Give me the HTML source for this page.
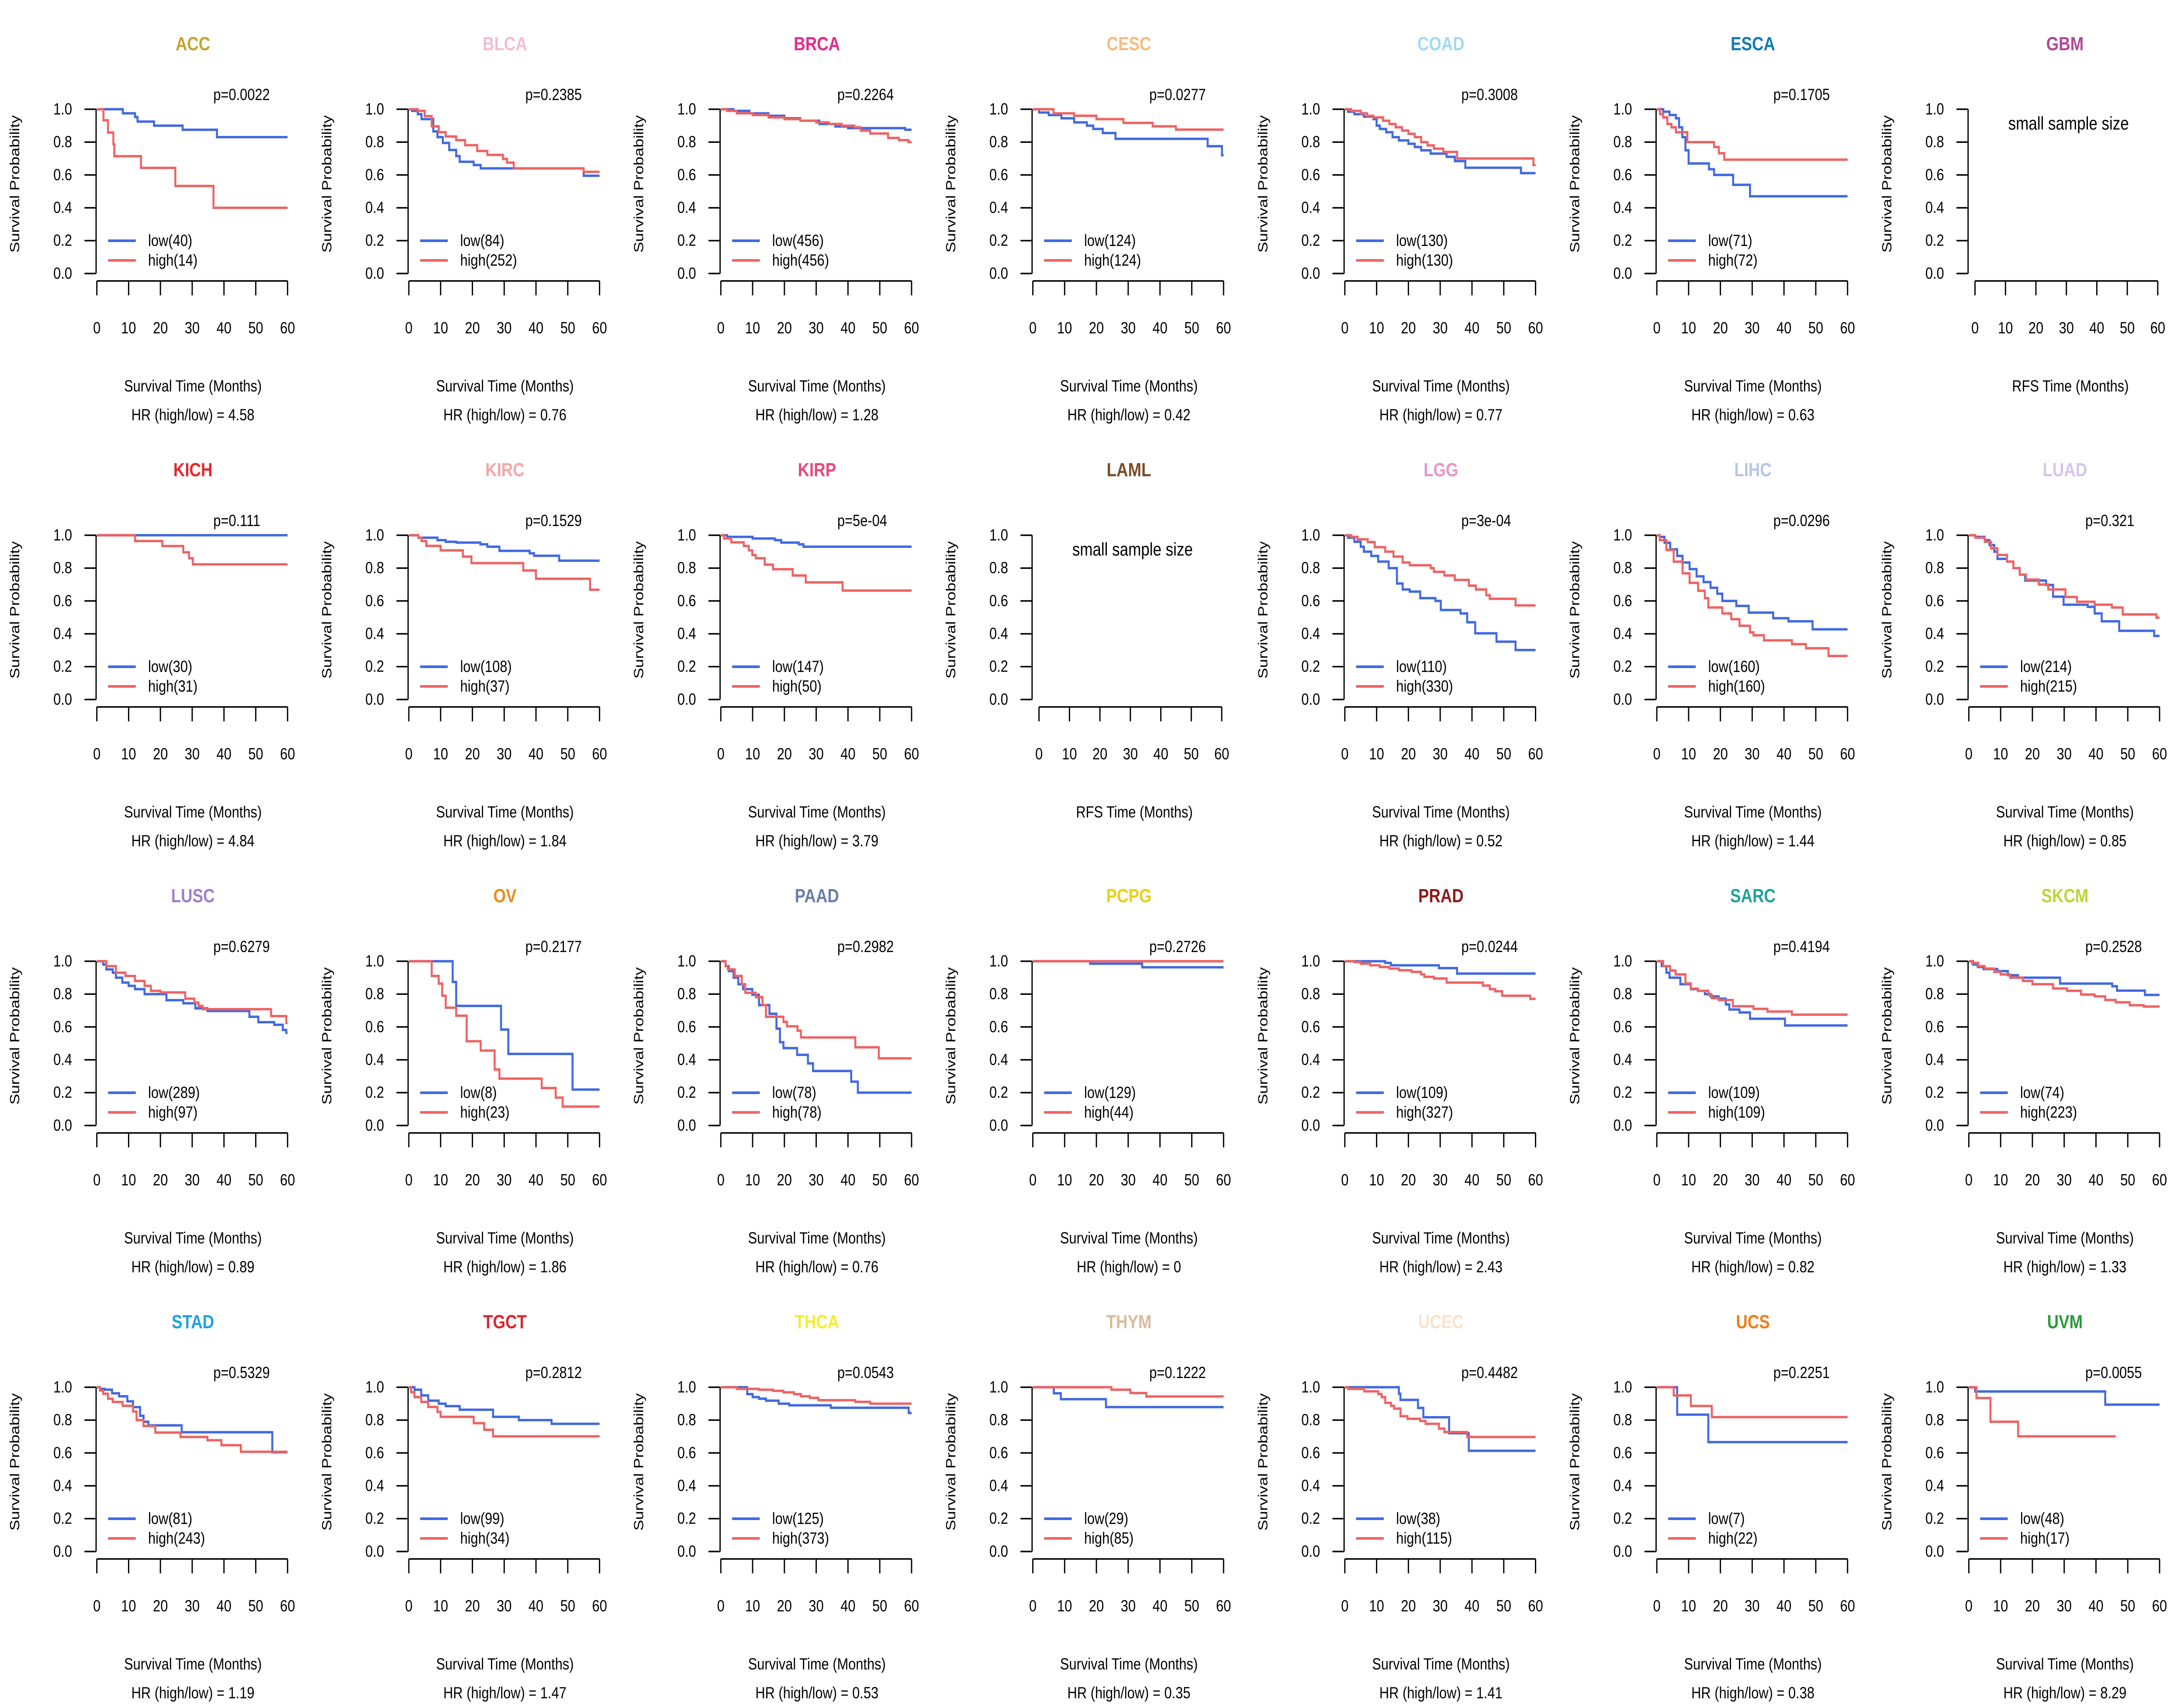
<!DOCTYPE html>
<html><head><meta charset="utf-8"><style>
html,body{margin:0;padding:0;background:#fff;overflow:hidden;width:100%;height:100%;}
svg{display:block;width:100vw;height:100vh;font-family:"Liberation Sans",Arial,sans-serif;}
</style></head><body>
<svg id="chart" xmlns="http://www.w3.org/2000/svg" viewBox="0 0 6000 3900" preserveAspectRatio="none"></svg>
<script>
const cancers=["ACC","BLCA","BRCA","CESC","COAD","ESCA","GBM","KICH","KIRC","KIRP","LAML","LGG","LIHC","LUAD","LUSC","OV","PAAD","PCPG","PRAD","SARC","SKCM","STAD","TGCT","THCA","THYM","UCEC","UCS","UVM"];
const titleColors=["#C4A431","#F4BCD2","#E7298A","#F6BC7E","#A2DAF0","#0F7CB6","#B0479A","#E8262A","#F4A6AA","#E8477A","#7B4A2A","#E497C8","#B6C4E8","#D4C6E8","#9C80C8","#E98B1F","#6C7CAA","#E9CF1B","#8B1A1A","#1FA39A","#BAD636","#1EA2E0","#D7262F","#F3EE2E","#DABA9C","#FAE3CB","#F07D1A","#2B9A3A"];
const pvals=["p=0.0022","p=0.2385","p=0.2264","p=0.0277","p=0.3008","p=0.1705","","p=0.111","p=0.1529","p=5e-04","","p=3e-04","p=0.0296","p=0.321","p=0.6279","p=0.2177","p=0.2982","p=0.2726","p=0.0244","p=0.4194","p=0.2528","p=0.5329","p=0.2812","p=0.0543","p=0.1222","p=0.4482","p=0.2251","p=0.0055"];
const hrs=["4.58","0.76","1.28","0.42","0.77","0.63","","4.84","1.84","3.79","","0.52","1.44","0.85","0.89","1.86","0.76","0","2.43","0.82","1.33","1.19","1.47","0.53","0.35","1.41","0.38","8.29"];
const lowN=[40,84,456,124,130,71,0,30,108,147,0,110,160,214,289,8,78,129,109,109,74,81,99,125,29,38,7,48];
const highN=[14,252,456,124,130,72,0,31,37,50,0,330,160,215,97,23,78,44,327,109,223,243,34,373,85,115,22,17];
const lowCurves=[
[[8.2,0.975],[12,0.953],[12.8,0.925],[18,0.9],[27,0.875],[37.8,0.83]],
[[1,0.99],[2.8,0.97],[4,0.94],[7.7,0.865],[9,0.83],[10.7,0.795],[12.7,0.752],[14.9,0.715],[16,0.68],[20.4,0.66],[22.6,0.64],[55,0.595]],
[[4,0.99],[9,0.975],[15,0.96],[20,0.945],[25,0.93],[31,0.91],[36,0.895],[40,0.885],[58,0.875]],
[[2,0.98],[5,0.965],[9,0.945],[13,0.92],[17,0.9],[19,0.88],[22,0.855],[26,0.82],[55,0.775],[59.5,0.72]],
[[1,0.985],[3,0.97],[6,0.955],[9,0.94],[10,0.9],[11,0.88],[13,0.86],[15,0.83],[17,0.81],[20,0.79],[22,0.77],[24,0.75],[27,0.73],[32,0.71],[34.6,0.684],[37.9,0.644],[55.4,0.611]],
[[2,0.985],[4,0.965],[6,0.945],[7,0.89],[8,0.83],[9,0.75],[10,0.67],[16.4,0.635],[18,0.6],[24,0.54],[29.3,0.47]],
[],
[],
[[3,0.985],[9,0.97],[11.6,0.96],[15,0.955],[22.5,0.945],[24.7,0.93],[28.5,0.905],[38,0.89],[39.4,0.875],[47.3,0.845]],
[[2,0.99],[10,0.98],[17,0.97],[19,0.955],[24.5,0.945],[26,0.93]],
[],
[[1,0.985],[3,0.96],[5,0.93],[6,0.9],[8.3,0.874],[10.5,0.84],[13.8,0.8],[16.4,0.706],[18.2,0.67],[20.4,0.657],[23.7,0.617],[28.5,0.6],[30.2,0.545],[36.4,0.524],[38.5,0.47],[41,0.403],[47.7,0.352],[53.7,0.301]],
[[0.9,0.99],[2.4,0.954],[4.2,0.914],[6.4,0.874],[8.1,0.834],[10.3,0.794],[12.5,0.75],[14.7,0.715],[16.9,0.68],[19,0.644],[20.6,0.6],[25,0.57],[28.9,0.529],[36.6,0.495],[41.4,0.476],[49,0.427]],
[[2,0.99],[5,0.97],[6.5,0.94],[8,0.9],[9,0.856],[12,0.84],[14,0.8],[16,0.76],[17.7,0.724],[24.3,0.697],[26.5,0.626],[29.8,0.577],[37.4,0.564],[39.6,0.524],[41.8,0.476],[47.3,0.418],[58.3,0.387]],
[[2,0.98],[3,0.95],[5,0.93],[6,0.9],[8,0.87],[10,0.85],[12,0.83],[15,0.8],[21.9,0.763],[27.2,0.744],[31,0.713],[34.8,0.697],[48,0.662],[50.8,0.629],[55.8,0.613],[58.5,0.582],[59.6,0.564]],
[[13.8,0.874],[14.9,0.728],[29,0.584],[31.3,0.436],[51.5,0.219]],
[[1.5,0.97],[2.5,0.94],[4,0.9],[5.5,0.86],[7,0.83],[9.9,0.796],[12,0.733],[15.3,0.68],[17.5,0.59],[18.6,0.507],[19.7,0.471],[24,0.43],[27.4,0.378],[29,0.332],[41,0.267],[43.1,0.2]],
[[18,0.985],[34.4,0.963]],
[[12.7,0.99],[14.5,0.975],[29.6,0.958],[35.3,0.925]],
[[1.5,0.97],[3,0.93],[4,0.9],[7.4,0.86],[10.7,0.83],[12.9,0.82],[15.1,0.8],[16.9,0.786],[19.5,0.772],[21.7,0.737],[22.8,0.706],[26,0.688],[29.3,0.65],[40.3,0.609]],
[[1.3,0.98],[2.8,0.965],[4.6,0.952],[9,0.94],[12.3,0.915],[15.5,0.9],[28.7,0.864],[45.1,0.848],[46.6,0.821],[55.4,0.795]],
[[1,0.99],[2.6,0.985],[4.8,0.963],[7,0.945],[9.6,0.914],[11.4,0.879],[13.6,0.826],[14.7,0.79],[16.2,0.768],[26.7,0.726],[55.2,0.604]],
[[1.8,0.985],[3.9,0.95],[6.1,0.918],[9.4,0.9],[11.6,0.885],[16,0.863],[26.5,0.82],[34.6,0.8],[44.9,0.777]],
[[8.3,0.958],[10,0.94],[12,0.93],[14.2,0.918],[18.2,0.9],[21.5,0.89],[34.6,0.875],[59.1,0.843]],
[[6.6,0.963],[8.8,0.927],[23,0.879]],
[[17,0.96],[17.5,0.923],[23,0.874],[24.7,0.817],[32.8,0.72],[39,0.613]],
[[6.4,0.833],[16.2,0.666]],
[[2,0.974],[42.9,0.894]]
];
const highCurves=[
[[2.1,0.933],[3.5,0.858],[5.2,0.787],[5.5,0.714],[13.9,0.643],[24.7,0.533],[36.7,0.4]],
[[2.8,0.99],[5,0.958],[7.2,0.896],[9.4,0.86],[11.6,0.834],[14.9,0.812],[17.7,0.781],[21.5,0.746],[24.7,0.722],[29.6,0.697],[30.9,0.675],[33,0.64],[55,0.619]],
[[2,0.99],[5,0.975],[10,0.965],[15,0.95],[20,0.94],[25,0.93],[30,0.92],[34,0.91],[38,0.9],[42,0.89],[44,0.87],[47,0.852],[52.6,0.825],[56,0.812],[59,0.8]],
[[6.5,0.975],[13,0.96],[20,0.94],[28.5,0.917],[37.7,0.896],[45,0.876]],
[[2,0.99],[5,0.975],[7,0.96],[9,0.95],[12,0.93],[14,0.91],[16,0.89],[18,0.87],[20,0.85],[22,0.83],[24,0.8],[26,0.78],[28,0.76],[31,0.74],[35.3,0.7],[59.3,0.66]],
[[1,0.97],[2,0.95],[3.3,0.91],[4.6,0.89],[6,0.86],[9.6,0.8],[18,0.77],[19.5,0.732],[21.2,0.693]],
[],
[[12,0.965],[20.6,0.934],[27.2,0.896],[29,0.86],[30.2,0.823]],
[[3,0.985],[4,0.965],[5.5,0.935],[10,0.908],[17,0.87],[19.7,0.83],[36,0.785],[40,0.735],[57,0.668]],
[[1,0.98],[3.3,0.957],[7.2,0.934],[8.8,0.908],[9.9,0.879],[11,0.86],[13.8,0.821],[16.4,0.793],[22.6,0.755],[26.7,0.713],[38.3,0.663]],
[],
[[2,0.99],[4,0.975],[7.2,0.958],[9.4,0.927],[12.7,0.9],[15.3,0.87],[18.2,0.834],[20.4,0.817],[27,0.8],[28,0.777],[31.3,0.755],[34.6,0.728],[39,0.693],[41.2,0.67],[44.5,0.635],[45.6,0.613],[53.7,0.573]],
[[0.9,0.97],[3,0.91],[5.3,0.839],[8.1,0.768],[10.3,0.71],[13,0.662],[15.1,0.617],[16.2,0.56],[20.6,0.524],[23.4,0.489],[26,0.449],[29.3,0.409],[30.4,0.391],[33.7,0.36],[42.5,0.337],[46.9,0.312],[54,0.265]],
[[2,0.985],[5,0.96],[7,0.92],[9,0.88],[12,0.84],[14,0.8],[16,0.76],[18,0.73],[22,0.7],[25,0.67],[30.4,0.624],[34,0.595],[39.6,0.577],[45,0.56],[48.4,0.518],[59,0.498]],
[[3,0.97],[6,0.93],[9,0.91],[12,0.88],[15,0.85],[17,0.82],[20,0.81],[27.8,0.772],[30.7,0.748],[32,0.728],[33.3,0.708],[54.8,0.666],[59.6,0.624]],
[[7.2,0.91],[9.4,0.864],[10.5,0.79],[11.6,0.717],[14.9,0.668],[18.2,0.513],[22.6,0.456],[27,0.341],[28.5,0.285],[41.8,0.228],[46.2,0.17],[48.4,0.115]],
[[1.5,0.97],[2.2,0.95],[4.4,0.91],[6.6,0.86],[7.7,0.808],[11,0.781],[13.1,0.733],[14.2,0.662],[19.7,0.631],[20.8,0.604],[24.1,0.577],[25.2,0.536],[42.3,0.476],[49.7,0.409]],
[],
[[3,0.995],[5,0.985],[8,0.975],[11,0.965],[14,0.955],[17,0.945],[21,0.935],[24,0.92],[25,0.905],[28,0.895],[32,0.87],[43.4,0.852],[45.6,0.83],[47.3,0.817],[49.5,0.79],[58.3,0.771]],
[[2,0.97],[4.2,0.943],[5.9,0.92],[9,0.865],[10.7,0.833],[12.9,0.82],[16.2,0.795],[17.3,0.775],[19.5,0.764],[23.9,0.726],[30.4,0.71],[34.8,0.694],[42.5,0.675]],
[[1,0.99],[3,0.97],[5,0.955],[8,0.935],[10,0.92],[13,0.9],[17,0.88],[20,0.86],[26.5,0.834],[30.9,0.82],[35.3,0.797],[39.6,0.786],[42.9,0.764],[46.2,0.75],[50.6,0.732],[55,0.724]],
[[1,0.98],[2,0.96],[3.5,0.93],[5,0.91],[8.1,0.887],[11.4,0.852],[12.5,0.8],[14.7,0.764],[18.4,0.724],[26.3,0.697],[34.8,0.677],[39.2,0.647],[45.3,0.607]],
[[0.7,0.97],[1.8,0.94],[3.9,0.91],[6.1,0.88],[9,0.85],[10,0.82],[20.4,0.781],[23.7,0.741],[26.5,0.701]],
[[5,0.99],[12,0.985],[16.4,0.978],[19.7,0.969],[23,0.958],[25.2,0.945],[28,0.935],[30.7,0.921],[42.3,0.911],[47,0.9]],
[[24.7,0.985],[30.7,0.965],[35.7,0.944]],
[[1,0.99],[6.1,0.975],[10.5,0.958],[11.6,0.94],[12.7,0.905],[14.5,0.887],[15.5,0.87],[17.5,0.824],[19.7,0.808],[23.7,0.795],[25.4,0.777],[29.6,0.748],[31.3,0.727],[38.5,0.697]],
[[5.3,0.95],[10.7,0.886],[17.3,0.818]],
[[2.4,0.934],[6.8,0.79],[15.5,0.701]]
];
const lowEnd=[60,60,60,60,60,60,0,60,60,60,0,60,60,60,60,60,60,60,60,60,60,60,60,60,60,60,60,60];
const highEnd=[60,60,60,60,60,60,0,60,60,60,0,60,60,60,60,60,60,60,60,60,60,60,60,60,60,60,60,46.2];
const yTicks=["0.0","0.2","0.4","0.6","0.8","1.0"];
const xTicks=[0,10,20,30,40,50,60];

const NS="http://www.w3.org/2000/svg";
const svg=document.getElementById('chart');
function el(tag,attrs,parent,txt){const e=document.createElementNS(NS,tag);for(const k in attrs)e.setAttribute(k,attrs[k]);if(txt!==undefined)e.textContent=txt;parent.appendChild(e);return e;}
const X0=266,X1=790,Y1=250,Y0=626;
function sx(t){return X0+t/60*(X1-X0);}
function sy(s){return Y0-s*(Y0-Y1);}
function stepPath(curve,end){let d="M"+sx(0)+","+sy(1);for(const p of curve){d+=" H"+sx(p[0]).toFixed(1)+" V"+sy(p[1]).toFixed(1);}d+=" H"+sx(end).toFixed(1);return d;}
const FS=37;
cancers.forEach((c,i)=>{
  const col=i%7,row=Math.floor(i/7);
  const g=el('g',{transform:`translate(${(col*6000/7).toFixed(2)},${row*975})`},svg);
  
  
  const small=(hrs[i]==="");
  const t=el('text',{x:530,y:100,'text-anchor':'middle','dominant-baseline':'central','font-size':44,'font-weight':'bold',fill:titleColors[i]},g,c);
  
  
  const yl=el('text',{x:0,y:0,transform:'translate(41,421) rotate(-90)','text-anchor':'middle','dominant-baseline':'central','font-size':FS},g,'Survival Probability');
  
  
  const ya=el('line',{x1:264,x2:264,y1:sy(0),y2:sy(1),stroke:'#000','stroke-width':3.5},g);
  
  
  yTicks.forEach((lab,k)=>{
    const v=parseFloat(lab);
    const tk=el('line',{x1:232,x2:264,y1:sy(v),y2:sy(v),stroke:'#000','stroke-width':3.5},g);
    
    
    const tl=el('text',{x:198,y:sy(v),'text-anchor':'end','dominant-baseline':'central','font-size':FS},g,lab);
    
    
  });
  const ax0=small?283:X0, ax1=small?785:X1;
  const xf=t=>ax0+t/60*(ax1-ax0);
  const xa=el('line',{x1:xf(0),x2:xf(60),y1:643,y2:643,stroke:'#000','stroke-width':3.5},g);
  
  
  xTicks.forEach(v=>{
    const tk=el('line',{x1:xf(v),x2:xf(v),y1:643,y2:676,stroke:'#000','stroke-width':3.5},g);
    
    
    const tl=el('text',{x:xf(v),y:751,'text-anchor':'middle','dominant-baseline':'central','font-size':FS},g,String(v));
    
    
  });
  if(small){
    const ss=el('text',{x:540,y:283,'text-anchor':'middle','dominant-baseline':'central','font-size':42},g,'small sample size');
    
    
    const xl=el('text',{x:545,y:884,'text-anchor':'middle','dominant-baseline':'central','font-size':FS},g,'RFS Time (Months)');
    
    
    return;
  }
  const xl=el('text',{x:530,y:884,'text-anchor':'middle','dominant-baseline':'central','font-size':FS},g,'Survival Time (Months)');
  
  
  const hr=el('text',{x:530,y:950,'text-anchor':'middle','dominant-baseline':'central','font-size':FS,'xml:space':'preserve'},g,'HR (high/low) =  '+hrs[i]);
  
  
  const pv=el('text',{x:586,y:217,'dominant-baseline':'central','font-size':FS},g,pvals[i]);
  
  
  const lp=el('path',{d:stepPath(lowCurves[i],lowEnd[i]),fill:'none',stroke:'#4169E1','stroke-width':5.5},g);
  
  
  const hp=el('path',{d:stepPath(highCurves[i],highEnd[i]),fill:'none',stroke:'#EE6363','stroke-width':5.5},g);
  
  
  const l1=el('line',{x1:297,x2:373,y1:551,y2:551,stroke:'#4169E1','stroke-width':6},g);
  
  
  const t1=el('text',{x:407,y:551,'dominant-baseline':'central','font-size':FS},g,'low('+lowN[i]+')');
  
  
  const l2=el('line',{x1:297,x2:373,y1:596,y2:596,stroke:'#EE6363','stroke-width':6},g);
  
  
  const t2=el('text',{x:407,y:596,'dominant-baseline':'central','font-size':FS},g,'high('+highN[i]+')');
  
  
});
</script>
</body></html>
